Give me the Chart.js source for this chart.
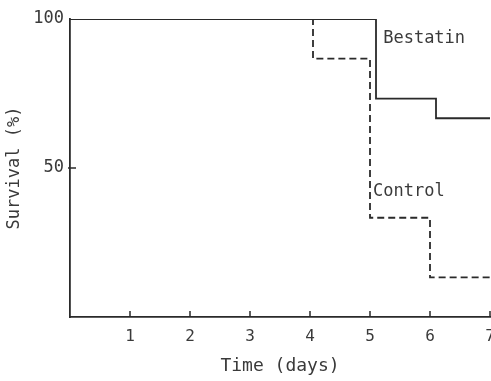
<!DOCTYPE html>
<html>
<head>
<meta charset="utf-8">
<script src="https://cdn.jsdelivr.net/npm/chart.js@4/dist/chart.umd.min.js"></script>
<style>
  html, body { margin: 0; padding: 0; background: #fff; }
  #wrap { width: 491px; height: 381px; }
</style>
</head>
<body>
<div id="wrap"><canvas id="survivalChart" width="491" height="381"></canvas></div>
<script>
// survival (%) at each step, time in days
const bestatinDays = [0, 5.1, 6.1, 7];
const bestatinSurv = [100, 73.3, 66.7, 66.7];
const controlDays = [0, 4.05, 5.0, 6.0, 7];
const controlSurv = [100, 86.7, 33.3, 13.3, 13.3];
const xTicks = [1, 2, 3, 4, 5, 6, 7];
const yTicks = [50, 100];
const seriesLabels = [
  { text: 'Bestatin', x: 5.22, y: 93.5 },
  { text: 'Control', x: 5.05, y: 42 }
];

const ink = '#2a2a2a';
const textInk = '#3a3a3a';
const monoFont = '"DejaVu Sans Mono", monospace';

const toPts = (xs, ys) => xs.map((x, i) => ({ x: x, y: ys[i] }));

// small inward tick marks + curve labels
const extras = {
  id: 'extras',
  afterDraw(chart) {
    const ctx = chart.ctx, xs = chart.scales.x, ys = chart.scales.y;
    const area = chart.chartArea;
    ctx.save();
    ctx.strokeStyle = ink;
    ctx.lineWidth = 1.5;
    ctx.beginPath();
    xTicks.forEach(t => {
      const px = xs.getPixelForValue(t);
      ctx.moveTo(px, area.bottom);
      ctx.lineTo(px, area.bottom - 6);
    });
    yTicks.filter(t => t < 100).forEach(t => {
      const py = ys.getPixelForValue(t);
      ctx.moveTo(area.left - 2, py);
      ctx.lineTo(area.left + 6, py);
    });
    ctx.stroke();
    ctx.fillStyle = textInk;
    ctx.font = '17px ' + monoFont;
    ctx.textBaseline = 'middle';
    ctx.textAlign = 'left';
    seriesLabels.forEach(l => {
      ctx.fillText(l.text, xs.getPixelForValue(l.x), ys.getPixelForValue(l.y));
    });
    ctx.restore();
  }
};

new Chart(document.getElementById('survivalChart').getContext('2d'), {
  type: 'line',
  data: {
    datasets: [
      { label: 'Bestatin', data: toPts(bestatinDays, bestatinSurv), stepped: 'before',
        borderColor: ink, borderWidth: 1.8, pointRadius: 0, fill: false, order: 0 },
      { label: 'Control', data: toPts(controlDays, controlSurv), stepped: 'before',
        borderColor: ink, borderWidth: 1.8, borderDash: [7, 4], pointRadius: 0, fill: false, order: 1 }
    ]
  },
  plugins: [extras],
  options: {
    responsive: false,
    animation: false,
    layout: { padding: { top: 19, right: 1, left: 0, bottom: 0 } },
    plugins: { legend: { display: false }, tooltip: { enabled: false } },
    scales: {
      x: {
        type: 'linear', min: 0, max: 7,
        afterBuildTicks: s => { s.ticks = xTicks.map(v => ({ value: v })); },
        afterFit: s => { s.height = 64; s.paddingRight = 0; },
        grid: { display: false, drawTicks: false },
        border: { display: true, color: ink, width: 1.8 },
        ticks: { color: textInk, font: { family: monoFont, size: 16 }, padding: 10, maxRotation: 0 },
        title: { display: true, text: 'Time (days)', color: textInk,
                 font: { family: monoFont, size: 18 }, padding: { top: 6 } }
      },
      y: {
        min: 0, max: 100,
        afterBuildTicks: s => { s.ticks = yTicks.map(v => ({ value: v })); },
        afterFit: s => { s.width = 70; },
        grid: { display: false, drawTicks: false },
        border: { display: true, color: ink, width: 1.8 },
        ticks: { color: textInk, font: { family: monoFont, size: 17 }, padding: 6 },
        title: { display: true, text: 'Survival (%)', color: textInk,
                 font: { family: monoFont, size: 17 }, padding: { bottom: 4 } }
      }
    }
  }
});
</script>
</body>
</html>
